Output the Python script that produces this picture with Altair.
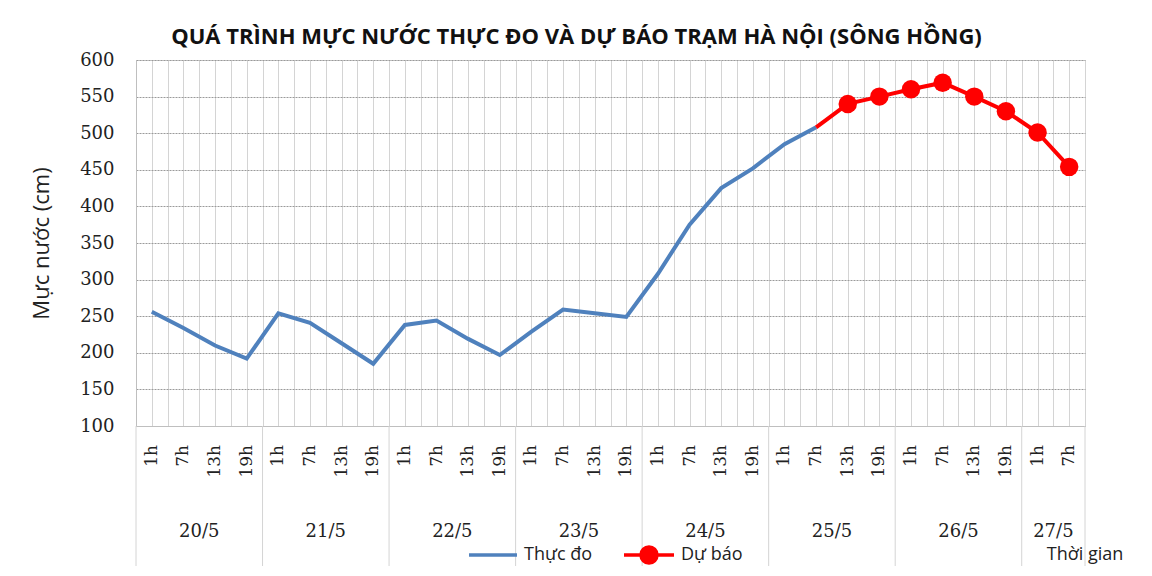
import altair as alt
import pandas as pd

days = ["20/5", "21/5", "22/5", "23/5", "24/5", "25/5", "26/5", "27/5"]
hours_full = ["1h", "7h", "13h", "19h"]
hours_per_day = [hours_full] * 7 + [["1h", "7h"]]

# Observed water level (cm), 20/5 1h .. 25/5 7h
observed = [256, 234, 210, 192,
            254, 241, 213, 185,
            238, 244, 219, 197,
            229, 259, 254, 249,
            308, 375, 425, 452,
            485, 508]
# Forecast (cm), starting at 25/5 7h (joins the observed line) .. 27/5 7h
forecast = [508, 540, 550, 560, 569, 550, 530, 501, 454]
forecast_has_marker = [False, True, True, True, True, True, True, True, True]

# ---- build tables ----
rows = []
idx = 0
for d, hrs in zip(days, hours_per_day):
    for h in hrs:
        rows.append({"idx": idx, "day": d, "hour": h, "pos": idx + 0.5})
        idx += 1
cats = pd.DataFrame(rows)
n = len(cats)

obs_df = cats.iloc[:len(observed)].copy()
obs_df["value"] = observed
obs_df["series"] = "Thực đo"

start = len(observed) - 1
fc_df = cats.iloc[start:start + len(forecast)].copy()
fc_df["value"] = forecast
fc_df["marker"] = forecast_has_marker
fc_df["fc"] = "Dự báo"

day_df = cats.groupby("day", sort=False)["idx"].agg(["min", "max"]).reset_index()
day_df["center"] = (day_df["min"] + day_df["max"] + 1) / 2
bounds = sorted(set(day_df["min"].tolist() + [n]))
bound_df = pd.DataFrame({"b": bounds})

W, H = 949, 366
SERIF = "DejaVu Serif"
SANS = "Open Sans"
BLUE = "#4F81BD"
RED = "#FF0000"

xscale = alt.Scale(domain=[0, n], nice=False, zero=False)
yscale = alt.Scale(domain=[100, 600], nice=False, zero=False)

grid_vals = [i / 2 for i in range(0, 2 * n + 1)]

x_axis = alt.Axis(values=grid_vals, grid=True, gridColor="#d4d4d4",
                  gridWidth=1, labels=False, ticks=False,
                  domain=True, domainColor="#bfbfbf", title=None)
y_axis = alt.Axis(values=list(range(100, 601, 50)), grid=True,
                  gridColor="#9a9a9a", gridDash=[2, 1], gridWidth=1,
                  ticks=False, domain=True, domainColor="#bfbfbf",
                  labelFont=SERIF, labelFontSize=18, labelColor="#222",
                  labelPadding=22,
                  title="Mực nước (cm)", titleFont=SANS,
                  titleFontSize=22, titleFontWeight="normal",
                  titleColor="#222", titlePadding=26)

X = alt.X("pos:Q", scale=xscale, axis=x_axis)
Y = alt.Y("value:Q", scale=yscale, axis=y_axis)

obs_line = alt.Chart(obs_df).mark_line(strokeWidth=4).encode(
    x=X, y=Y,
    color=alt.Color("series:N", scale=alt.Scale(domain=["Thực đo"], range=[BLUE]),
                    legend=alt.Legend(title=None, orient="none",
                                      legendX=331, legendY=469,
                                      symbolType="stroke", symbolStrokeWidth=3.5,
                                      symbolSize=2300, labelFont=SANS,
                                      labelFontSize=18, labelColor="#222",
                                      labelOffset=5)))

fc_line = alt.Chart(fc_df).mark_line(strokeWidth=4, color=RED).encode(x=X, y=Y)

fc_pts = alt.Chart(fc_df).transform_filter("datum.marker").mark_circle(
    size=340, opacity=1).encode(
    x=X, y=Y,
    fill=alt.Fill("fc:N", scale=alt.Scale(domain=["Dự báo"], range=[RED]),
                  legend=alt.Legend(title=None, orient="none",
                                    legendX=486, legendY=468,
                                    symbolType="M-1,0H1M0.32,0A0.32,0.32,0,1,1,-0.32,0A0.32,0.32,0,1,1,0.32,0Z",
                                    symbolStrokeColor=RED, symbolStrokeWidth=3.5,
                                    symbolFillColor=RED, symbolOpacity=1,
                                    symbolSize=2500, labelFont=SANS,
                                    labelFontSize=18, labelColor="#222",
                                    labelOffset=5)))

hour_text = alt.Chart(cats).mark_text(
    angle=270, align="right", baseline="middle", font=SERIF, fontSize=17,
    color="#222").encode(x=X, y=alt.value(H + 19), text="hour:N")

day_text = alt.Chart(day_df).mark_text(
    baseline="middle", font=SERIF, fontSize=18, color="#222").encode(
    x=alt.X("center:Q", scale=xscale, axis=x_axis), y=alt.value(H + 106), text="day:N")

sep = alt.Chart(bound_df).mark_rule(color="#d4d4d4", strokeWidth=1).encode(
    x=alt.X("b:Q", scale=xscale, axis=x_axis), y=alt.value(H), y2=alt.value(H + 140))

xlabel = alt.Chart(pd.DataFrame({"t": ["Thời gian"]})).mark_text(
    align="center", baseline="middle", font=SANS, fontSize=18, color="#222").encode(
    x=alt.value(W), y=alt.value(H + 129), text="t:N")

chart = alt.layer(sep, obs_line, fc_line, fc_pts, hour_text, day_text, xlabel).properties(
    width=W, height=H,
    title=alt.TitleParams("QUÁ TRÌNH MỰC NƯỚC THỰC ĐO VÀ DỰ BÁO TRẠM HÀ NỘI (SÔNG HỒNG)",
                          font=SANS, fontSize=22, fontWeight="bold", color="#111",
                          anchor="middle", dx=-34, offset=2),
    autosize=alt.AutoSizeParams(type="none"),
    padding={"left": 128, "top": 52, "right": 59, "bottom": 142},
).configure_view(stroke=None).configure(background="white")

chart.save("out.html", embed_options={"renderer": "svg", "actions": False})
